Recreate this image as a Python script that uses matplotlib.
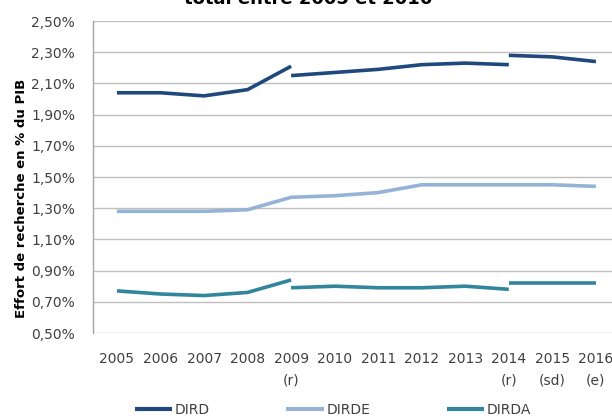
import numpy as np
import matplotlib
matplotlib.use('Agg')
import matplotlib.pyplot as plt
from matplotlib.ticker import FuncFormatter

# categories (x axis)
years = ['2005', '2006', '2007', '2008', '2009', '2010',
         '2011', '2012', '2013', '2014', '2015', '2016']
xlabels = ['2005', '2006', '2007', '2008', '2009\n(r)', '2010',
           '2011', '2012', '2013', '2014\n(r)', '2015\n(sd)', '2016\n(e)']

# DIRD, in three pieces (series breaks in 2009 and 2014)
dird_0509 = [2.04, 2.04, 2.02, 2.06, 2.21]
dird_0914 = [2.15, 2.17, 2.19, 2.22, 2.23, 2.22]
dird_1416 = [2.28, 2.27, 2.24]

# DIRDE, one continuous line
dirde = [1.28, 1.28, 1.28, 1.29, 1.37, 1.38, 1.40, 1.45, 1.45, 1.45, 1.45, 1.44]

# DIRDA, three pieces
dirda_0509 = [0.77, 0.75, 0.74, 0.76, 0.84]
dirda_0914 = [0.79, 0.80, 0.79, 0.79, 0.80, 0.78]
dirda_1416 = [0.82, 0.82, 0.82]

c_dird = '#1F497D'
c_dirde = '#95B3D7'
c_dirda = '#31859C'

plt.rcParams['font.family'] = 'DejaVu Sans'

fig = plt.figure(figsize=(6.12, 4.19), dpi=100)
ax = fig.add_axes([93 / 612, 86 / 419, 1 - 93 / 612, (333 - 21) / 419])

x = np.arange(len(years))
i09 = years.index('2009')
i14 = years.index('2014')

lw = 2.6
ax.plot(x[:i09 + 1], dird_0509, color=c_dird, lw=lw, label='DIRD', solid_capstyle='butt')
ax.plot(x[i09:i14 + 1], dird_0914, color=c_dird, lw=lw, solid_capstyle='butt')
ax.plot(x[i14:], dird_1416, color=c_dird, lw=lw, solid_capstyle='butt')

ax.plot(x, dirde, color=c_dirde, lw=lw, label='DIRDE', solid_capstyle='butt')

ax.plot(x[:i09 + 1], dirda_0509, color=c_dirda, lw=lw, label='DIRDA', solid_capstyle='butt')
ax.plot(x[i09:i14 + 1], dirda_0914, color=c_dirda, lw=lw, solid_capstyle='butt')
ax.plot(x[i14:], dirda_1416, color=c_dirda, lw=lw, solid_capstyle='butt')

ax.set_xlim(-0.55, 11.37)
ax.set_ylim(0.5, 2.5)
ax.set_yticks(np.arange(0.5, 2.51, 0.2))
ax.yaxis.set_major_formatter(FuncFormatter(lambda v, p: f'{v:.2f}%'.replace('.', ',')))
ax.set_xticks(x)
ax.set_xticklabels(xlabels, va='top', linespacing=1.6)
ax.tick_params(axis='both', length=0, labelsize=10, colors='#404040')
ax.tick_params(axis='x', pad=14)
ax.tick_params(axis='y', pad=13)

ax.grid(axis='y', color='#BFBFBF', lw=1)
ax.set_axisbelow(True)
for s in ['top', 'right', 'bottom']:
    ax.spines[s].set_visible(False)
ax.spines['left'].set_color('#A6A6A6')
ax.spines['left'].set_linewidth(1)

fig.text(22 / 612, 1 - 198 / 419, 'Effort de recherche en % du PIB', rotation=90,
         ha='center', va='center', fontsize=9.5, fontweight='bold', color='black')

fig.text(308 / 612, 1 - 4 / 419, 'Evolution de l\'effort de recherche\ntotal entre 2005 et 2016',
         ha='center', va='baseline', fontsize=13, fontweight='bold', color='black')

leg = fig.legend(loc='center', bbox_to_anchor=(333 / 612, 1 - 410 / 419), ncol=3,
                 frameon=False, fontsize=10, handlelength=2.7, columnspacing=5.5,
                 handletextpad=0.2, labelcolor='#404040')
for h in leg.legend_handles:
    h.set_linewidth(3)

fig.savefig('out.png', dpi=100)
